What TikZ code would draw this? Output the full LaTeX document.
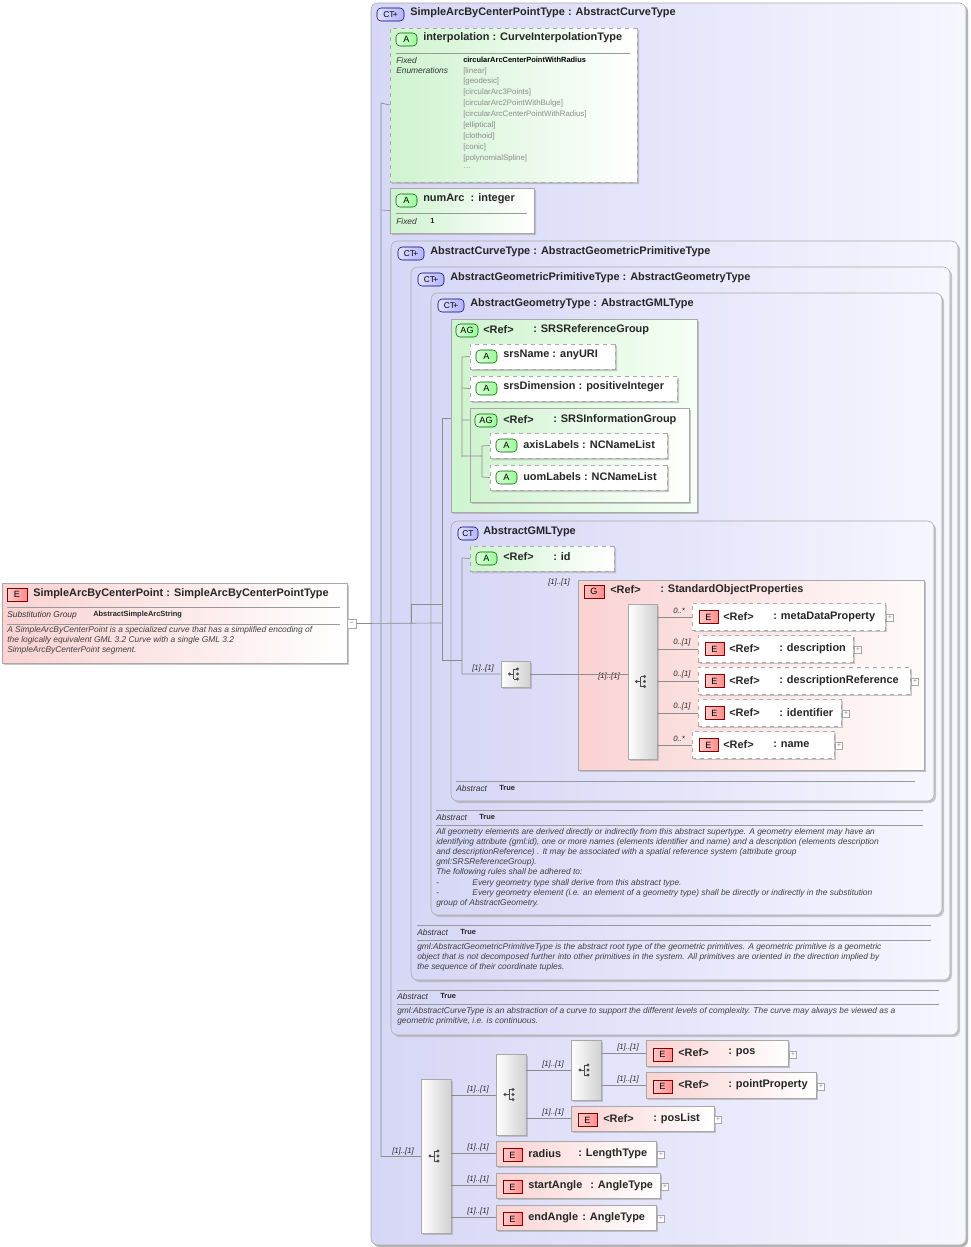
\documentclass[tikz,border=0pt]{standalone}
\usepackage{fontspec}
\setmainfont{Liberation Sans}
\usetikzlibrary{shapes.misc,shadows}
\definecolor{lav}{HTML}{D6D6F6}
\definecolor{lavr}{HTML}{F6F6FF}
\definecolor{grl}{HTML}{CFF3CF}
\definecolor{grr}{HTML}{F6FFF6}
\definecolor{pkl}{HTML}{FAD2D2}
\definecolor{pkr}{HTML}{FFFFFF}
\definecolor{bord}{HTML}{A8A8A8}
\newcommand\bx[7][]{\node[#1, minimum width={((#5)-(#3))*0.75pt}, minimum height={((#6)-(#4))*0.75pt}, inner sep=0pt] (#2) at ({((#3)+(#5))/2},{((#4)+(#6))/2}) {#7};}
\tikzset{
 shd/.style={drop shadow={shadow xshift=1.5pt,shadow yshift=-1.5pt,fill=black!35,opacity=.6}},
 ctb/.style={draw=bord, rounded corners=5pt, left color=lav, right color=lavr, shd},
 grb/.style={draw=bord, left color=grl, right color=grr, shd},
 att/.style={draw=bord, dashed, chamfered rectangle, chamfered rectangle corners={north west,south west}, chamfered rectangle xsep=4pt, left color=grl, right color=white, shd},
 attn/.style={att, solid},
 elb/.style={draw=bord, left color=pkl, right color=white, shd},
 eld/.style={elb, dashed},
 seqb/.style={draw=bord, left color=white, right color=black!18, shd},
 gbox/.style={draw=bord, left color=pkl, right color=pkr!90!pkl, shd},
 bE/.style={draw=red!50!black, left color=red!20, right color=red!45, font=\fontsize{6.8}{7}\selectfont},
 bA/.style={draw=green!35!black, rounded corners=3pt, left color=green!15, right color=green!40, font=\fontsize{6.8}{7}\selectfont},
 bAG/.style={bA},
 bCT/.style={draw=blue!40!black, rounded corners=3pt, left color=blue!12, right color=blue!30, font=\fontsize{6.3}{7}\selectfont},
 bG/.style={draw=red!50!black, left color=red!25, right color=red!45, font=\fontsize{6.8}{7}\selectfont},
 t/.style={anchor=west, inner sep=0pt, font=\bfseries\fontsize{8.2}{9}\selectfont, text=black!85},
 s/.style={anchor=west, inner sep=0pt, font=\itshape\fontsize{6.3}{7.5}\selectfont, text=black!80},
 sb/.style={anchor=west, inner sep=0pt, font=\bfseries\fontsize{5.6}{7}\selectfont, text=black!85},
 en/.style={anchor=west, inner sep=0pt, font=\fontsize{5.9}{7}\selectfont, text=black!45},
 par/.style={anchor=north west, inner sep=0pt, align=left, font=\itshape\fontsize{6.3}{7.6}\selectfont, text=black!75},
 ml/.style={anchor=west, inner sep=0pt, font=\itshape\fontsize{5.8}{7}\selectfont, text=black!85},
 cn/.style={draw=black!45, line width=0.5pt},
 sep/.style={draw=black!40, line width=0.5pt},
 plus/.style={draw=black!35, fill=white, font=\fontsize{5}{5}\selectfont, text=black!50},
 seqic/.pic={\fill[black!70] (-6,0) circle (1.6); \draw[black!70,line width=0.7pt] (-6,0)--(-2,0) (-2,-5)--(-2,5) (-2,-5)--(2,-5) (-2,5)--(2,5);
   \fill[black!70] (2,-5) circle (1.7) (2,0) circle (1.7) (2,5) circle (1.7);}
}
\begin{document}
\begin{tikzpicture}[x=0.75pt,y=-0.75pt]
\useasboundingbox (0,0) rectangle (971,1247);
\fill[white] (0,0) rectangle (971,1247);
% left element
\bx[elb]{el}{2}{583}{347}{663}{}
\bx[bE]{elb}{7}{588}{27}{601}{E}
\node[t] (elt) at (33,594) {SimpleArcByCenterPoint : SimpleArcByCenterPointType};
\draw[sep] (7,607)--(340,607) (7,624)--(340,624);
\node[s] (sg) at (7,615) {Substitution Group};
\node[sb] (sgv) at (93,615) {AbstractSimpleArcString};
\node[par] (eld) at (7,626) {A SimpleArcByCenterPoint is a specialized curve that has a simplified encoding of\\the logically equivalent GML 3.2 Curve with a single GML 3.2\\SimpleArcByCenterPoint segment.};
\bx[plus]{mn}{347}{619}{356}{628}{--}
% outer CT
\bx[ctb,shd]{ct}{371}{3}{966}{1245}{}
\bx[bCT]{ctb}{377}{8}{404}{21}{CT$\!$+}
\node[t] at (410,13) {SimpleArcByCenterPointType : AbstractCurveType};
% interpolation
\bx[att]{interp}{390}{28}{637}{182}{}
\bx[bA]{ia}{396}{33}{417}{46}{A}
\node[t] at (423,38) {interpolation : CurveInterpolationType};
\draw[sep] (396,53)--(630,53);
\node[s] at (396,60) {Fixed};
\node[s] at (396,70) {Enumerations};
\node[sb,text=black] at (463,60) {circularArcCenterPointWithRadius};
\foreach \v/\y in {[linear]/71,[geodesic]/81,[circularArc3Points]/92,[circularArc2PointWithBulge]/103,[circularArcCenterPointWithRadius]/114,[elliptical]/125,[clothoid]/136,[conic]/147,[polynomialSpline]/158}
  \node[en] at (463,\y) {\v};
\node[en] at (463,168) {\ldots};
% numArc
\bx[attn]{numarc}{390}{188}{534}{233}{}
\bx[bA]{na}{396}{194}{417}{207}{A}
\node[t] at (423,199) {numArc\ \ : integer};
\draw[sep] (396,213)--(527,213);
\node[s] at (396,221) {Fixed};
\node[sb] at (430,221) {1};
% AbstractCurveType
\bx[ctb]{act}{391}{241}{958}{1035}{}
\bx[bCT]{actb}{398}{247}{424}{260}{CT$\!$+}
\node[t] at (430,252) {AbstractCurveType : AbstractGeometricPrimitiveType};
\draw[sep] (397,990)--(939,990) (397,1004)--(939,1004);
\node[s] at (397,996) {Abstract}; \node[sb] at (440,996) {True};
\node[par] at (397,1007) {gml:AbstractCurveType is an abstraction of a curve to support the different levels of complexity. The curve may always be viewed as a\\geometric primitive, i.e. is continuous.};
% AbstractGeometricPrimitiveType
\bx[ctb]{agp}{411}{267}{950}{980}{}
\bx[bCT]{agpb}{418}{273}{444}{286}{CT$\!$+}
\node[t] at (450,278) {AbstractGeometricPrimitiveType : AbstractGeometryType};
\draw[sep] (417,925)--(931,925) (417,940)--(931,940);
\node[s] at (417,932) {Abstract}; \node[sb] at (460,932) {True};
\node[par] at (417,943) {gml:AbstractGeometricPrimitiveType is the abstract root type of the geometric primitives. A geometric primitive is a geometric\\object that is not decomposed further into other primitives in the system. All primitives are oriented in the direction implied by\\the sequence of their coordinate tuples.};
% AbstractGeometryType
\bx[ctb]{ag}{431}{293}{942}{915}{}
\bx[bCT]{agb}{438}{299}{464}{312}{CT$\!$+}
\node[t] at (470,304) {AbstractGeometryType : AbstractGMLType};
\draw[sep] (436,810)--(923,810) (436,825)--(923,825);
\node[s] at (436,817) {Abstract}; \node[sb] at (479,817) {True};
\node[par] at (436,828) {All geometry elements are derived directly or indirectly from this abstract supertype. A geometry element may have an\\identifying attribute (gml:id), one or more names (elements identifier and name) and a description (elements description\\and descriptionReference) . It may be associated with a spatial reference system (attribute group\\gml:SRSReferenceGroup).\\The following rules shall be adhered to:\\-\hspace{25pt}Every geometry type shall derive from this abstract type.\\-\hspace{25pt}Every geometry element (i.e. an element of a geometry type) shall be directly or indirectly in the substitution\\group of AbstractGeometry.};
% SRSReferenceGroup
\bx[grb]{srg}{451}{319}{697}{512}{}
\bx[bAG]{srgb}{456}{324}{478}{337}{AG}
\node[t] at (483,330) {<Ref>}; \node[t] at (533,330) {: SRSReferenceGroup};
\bx[att,left color=white]{srsn}{470}{344}{615}{369}{}
\bx[bA]{srsnb}{476}{350}{497}{363}{A}
\node[t] at (503,355) {srsName : anyURI};
\bx[att,left color=white]{srsd}{470}{376}{677}{401}{}
\bx[bA]{srsdb}{476}{382}{497}{395}{A}
\node[t] at (503,387) {srsDimension : positiveInteger};
\bx[grb,right color=white]{sig}{470}{408}{689}{502}{}
\bx[bAG]{sigb}{475}{414}{497}{427}{AG}
\node[t] at (503,420) {<Ref>}; \node[t] at (553,420) {: SRSInformationGroup};
\bx[att,left color=white]{axl}{490}{433}{667}{458}{}
\bx[bA]{axlb}{496}{439}{517}{452}{A}
\node[t] at (523,445) {axisLabels : NCNameList};
\bx[att,left color=white]{uol}{490}{465}{667}{490}{}
\bx[bA]{uolb}{496}{471}{517}{484}{A}
\node[t] at (523,477) {uomLabels : NCNameList};
\draw[cn] (srsn.west) -- (462,357) -- (462,457) (srsd.west) -- (462,388) (sig.west |- 0,420) -- (462,420)
  (462,456) -- (482,456) (axl.west) -- (482,446) -- (482,477) -- (uol.west);
% AbstractGMLType
\bx[ctb]{gml}{451}{521}{934}{801}{}
\bx[bCT]{gmlb}{458}{527}{478}{540}{CT}
\node[t] at (483,532) {AbstractGMLType};
\draw[sep] (456,781)--(915,781);
\node[s] at (456,788) {Abstract}; \node[sb] at (499,788) {True};
\bx[att]{gid}{470}{546}{614}{571}{}
\bx[bA]{gidb}{476}{552}{497}{565}{A}
\node[t] at (503,557) {<Ref>}; \node[t] at (553,557) {: id};
\bx[seqb]{sq1}{501}{661}{530}{687}{}
\pic at (sq1) {seqic};
\node[ml] at (472,668) {[1]..[1]};
\bx[gbox]{gso}{578}{580}{924}{770}{}
\node[ml] at (548,582) {[1]..[1]};
\bx[bG]{gsob}{584}{585}{604}{598}{G}
\node[t] at (610,590) {<Ref>}; \node[t] at (660,590) {: StandardObjectProperties};
\bx[seqb]{sq2}{628}{604}{657}{759}{}
\pic at (sq2) {seqic};
\node[ml] at (598,676) {[1]..[1]};
\draw[cn] (sq1.east) -- (sq2.west |- sq1.east);
\draw[cn] (gid.west) -- (462,558) -- (462,674) -- (sq1.west);
\foreach \nm/\xa/\ya/\xb/\yb/\mult/\lab/\px in {md/692/603/885/630/0..*/metaDataProperty/890, ds/698/635/853/662/0..[1]/description/858, dr/698/667/910/694/0..[1]/descriptionReference/915, idf/698/699/841/726/0..[1]/identifier/846, nmm/692/731/834/758/0..*/name/839}{
  \bx[eld,left color=white]{\nm}{\xa}{\ya}{\xb}{\yb}{}
  \pgfmathsetmacro\yc{(\ya+\yb)/2}
  \bx[bE]{\nm b}{\xa+7}{\yc-6}{\xa+26}{\yc+7}{E}
  \node[t] at (\xa+31,\yc) {<Ref>};
  \node[t] at (\xa+81,\yc) {: \lab};
  \bx[plus]{\nm p}{\px-3.5}{\yc-2}{\px+3.5}{\yc+5}{+}
  \node[ml] at (673,\yc-6) {\mult};
  \draw[cn] (657,\yc+1) -- (\nm.west |- 0,\yc+1);
}
% spines
\draw[cn] (interp.west) -- (381,103) -- (381,1157);
\draw[cn] (numarc.west) -- (381,210);
\draw[cn] (mn.east) -- (442,623);
\draw[cn] (411,604) -- (411,623);
\draw[cn] (411,604) -- (442,604);
\draw[cn] (srg.west |- 0,418) -- (442,418) -- (442,660) -- (gml.west |- 0,660);
\draw[cn] (gml.west |- 0,660) -- (462,660);
% bottom sequences
\bx[seqb]{bs}{421}{1079}{451}{1233}{}
\pic at (bs) {seqic};
\node[ml] at (392,1151) {[1]..[1]};
\draw[cn] (381,1156) -- (bs.west);
\bx[seqb]{bs2}{496}{1054}{526}{1135}{}
\pic at (bs2) {seqic};
\node[ml] at (467,1089) {[1]..[1]};
\draw[cn] (451,1095) -- (bs2.west |- 0,1095);
\bx[seqb]{bs3}{571}{1040}{601}{1100}{}
\pic at (bs3) {seqic};
\node[ml] at (542,1064) {[1]..[1]};
\draw[cn] (526,1070) -- (bs3.west |- 0,1070);
\foreach \nm/\xa/\ya/\xb/\yb/\na/\nb/\nbx/\px/\lx/\from in {pos/646/1040/788/1066/{<Ref>}/{: pos}/728/793/617/601, pp/646/1072/816/1098/{<Ref>}/{: pointProperty}/728/821/617/601, pl/571/1106/714/1131/{<Ref>}/{: posList}/653/718/542/526, rad/496/1141/656/1166/{radius}/{: LengthType}/578/661/467/451, sa/496/1173/660/1198/{startAngle}/{: AngleType}/590/665/467/451, ea/496/1205/656/1230/{endAngle}/{: AngleType}/582/661/467/451}{
  \bx[elb]{\nm}{\xa}{\ya}{\xb}{\yb}{}
  \pgfmathsetmacro\yc{(\ya+\yb)/2}
  \bx[bE]{\nm b}{\xa+7}{\yc-5}{\xa+26}{\yc+8}{E}
  \node[t] at (\xa+32,\yc) {\na};
  \node[t] at (\nbx,\yc) {\nb};
  \bx[plus]{\nm p}{\px-3.5}{\yc-2}{\px+3.5}{\yc+5}{+}
  \node[ml] at (\lx,\yc-6) {[1]..[1]};
  \draw[cn] (\from,\yc) -- (\nm.west |- 0,\yc);
}
\end{tikzpicture}
\end{document}
